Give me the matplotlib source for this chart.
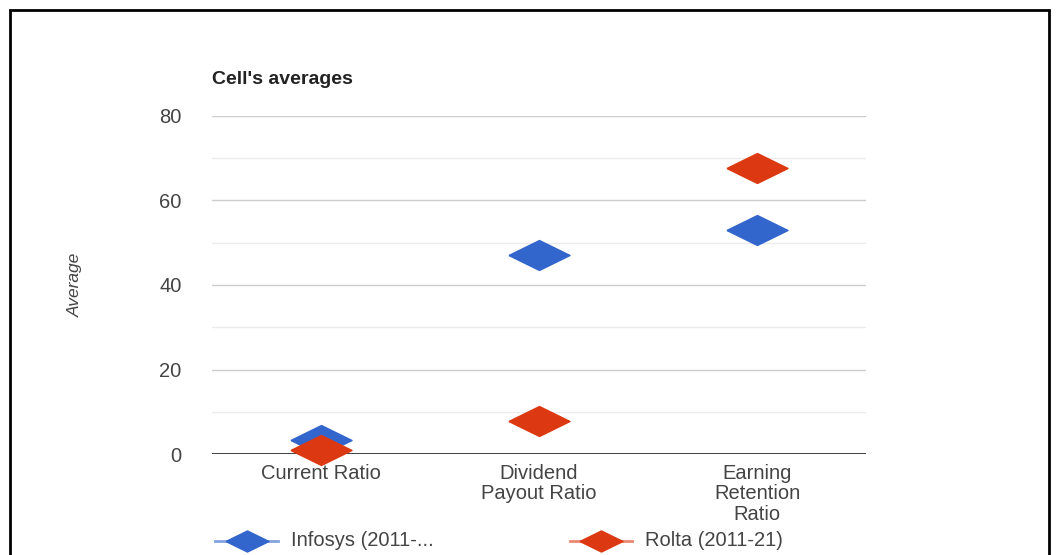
import matplotlib.pyplot as plt
from matplotlib.lines import Line2D
from matplotlib.patches import Rectangle

plt.rcParams['font.family'] = ['Liberation Sans', 'DejaVu Sans']

categories = ["Current Ratio", "Dividend\nPayout Ratio", "Earning\nRetention\nRatio"]
infosys = [3.3, 47.1, 53.0]
rolta = [1.0, 7.7, 67.7]
series_names = ["Infosys (2011-...", "Rolta (2011-21)"]

blue = "#3366cc"
red = "#dc3912"
W, H = 1056, 555

# wide diamond marker
diamond = [(-1, 0), (0, 0.49), (1, 0), (0, -0.49), (-1, 0)]

fig = plt.figure(figsize=(W / 100, H / 100), dpi=100)
ax = fig.add_axes([212 / W, (H - 454) / H, 654 / W, (454 - 116) / H])

x = list(range(len(categories)))
ax.plot(x, infosys, linestyle="none", marker=diamond, ms=44, color=blue,
        mec=blue, clip_on=False, zorder=3)
ax.plot(x, rolta, linestyle="none", marker=diamond, ms=44, color=red,
        mec=red, clip_on=False, zorder=4)

ax.set_xlim(-0.5, 2.5)
ax.set_ylim(0, 80)
ax.set_yticks([0, 20, 40, 60, 80])
ax.set_yticks([10, 30, 50, 70], minor=True)
ax.grid(axis="y", which="major", color="#cccccc", lw=1)
ax.grid(axis="y", which="minor", color="#ebebeb", lw=1)
ax.set_axisbelow(True)
ax.axhline(0, color="#333333", lw=1.3, zorder=2)
for s in ax.spines.values():
    s.set_visible(False)

ax.set_xticks(x)
ax.set_xticklabels(categories, fontsize=14.5, color="#444444", linespacing=1.1)
ax.tick_params(axis="x", length=0, pad=7)
ax.tick_params(axis="y", which="both", length=0, pad=22, labelsize=14.5,
               labelcolor="#444444")

fig.text(212 / W, 1 - 80 / H, "Cell's averages", fontsize=14, fontweight="bold",
         color="#222222", va="center", ha="left")
fig.text(75 / W, 1 - 285 / H, "Average", fontsize=12.5, style="italic",
         color="#444444", rotation=90, va="center", ha="center")

# legend along the bottom
legend_y = 1 - 541 / H
entries = [(215, 278, 291, blue, series_names[0]),
           (570, 632, 645, red, series_names[1])]
for x0, x1, tx, col, label in entries:
    fig.add_artist(Line2D([x0 / W, x1 / W], [legend_y, legend_y], color=col,
                          alpha=0.6, lw=2, transform=fig.transFigure))
    fig.add_artist(Line2D([(x0 + x1) / 2 / W], [legend_y], marker=diamond, ms=31,
                          color=col, linestyle="none", transform=fig.transFigure))
    fig.text(tx / W, legend_y, label, fontsize=14.5, color="#444444",
             va="center", ha="left")

fig.add_artist(Rectangle((10 / W, -0.1), (1049 - 10) / W, (H - 10) / H + 0.1,
                         transform=fig.transFigure, fill=False,
                         edgecolor="black", lw=2))

fig.savefig("out.png", dpi=100)
